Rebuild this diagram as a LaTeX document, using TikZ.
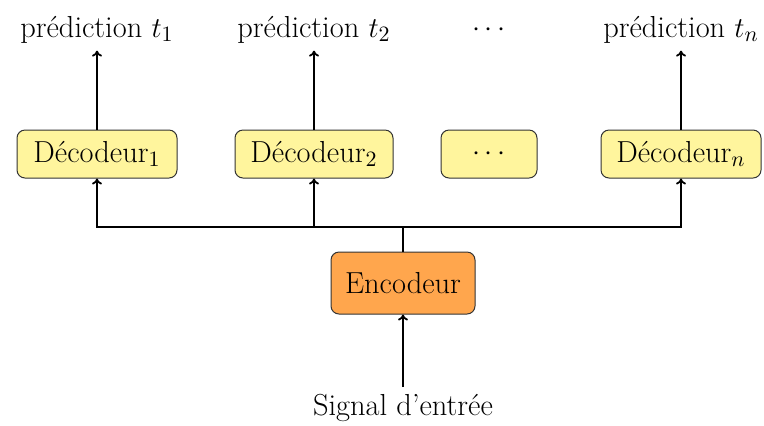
\documentclass[tikz,border=0pt]{standalone}
\usetikzlibrary{arrows.meta}
\definecolor{decfill}{HTML}{FFF59D}
\definecolor{encfill}{HTML}{FFA64D}
\begin{document}
\begin{tikzpicture}[x=0.5pt,y=-0.5pt,
  every node/.style={font=\fontsize{15.2}{18}\selectfont},
  decbox/.style={draw=black!80, fill=decfill, rounded corners=4pt, line width=0.5pt,
    minimum height=24pt, inner xsep=4pt},
  encbox/.style={draw=black!80, fill=encfill, rounded corners=4pt, line width=0.5pt,
    minimum height=31pt, minimum width=72pt},
  wire/.style={line width=0.9pt},
  arr/.style={wire, -{To[length=3pt,width=5pt]}}]
\useasboundingbox (0,0) rectangle (764,425);
% decoders
\node[decbox, minimum width=80pt] (d1) at (97,154) {Décodeur$_1$};
\node[decbox, minimum width=79pt] (d2) at (314,154) {Décodeur$_2$};
\node[decbox, minimum width=48pt] (dd) at (489,154) {$\cdots$};
\node[decbox, minimum width=80pt] (dn) at (681,154) {Décodeur$_n$};
% predictions
\node (p1) at (97,30) {prédiction $t_1$};
\node (p2) at (314,30) {prédiction $t_2$};
\node (pd) at (489,30) {$\cdots$};
\node (pn) at (681,30) {prédiction $t_n$};
% encoder and input
\node[encbox] (enc) at (403,283) {Encodeur};
\node (sig) at (403,408) {Signal d'entrée};
\coordinate (j) at (403,227);
% connectors
\draw[arr] (sig.north) -- (enc.south);
\draw[wire] (enc.north) -- (j);
\draw[arr] (j) -| (d1.south);
\draw[arr] (j) -| (d2.south);
\draw[arr] (j) -| (dn.south);
\draw[arr] (d1.north) -- (p1.south);
\draw[arr] (d2.north) -- (p2.south);
\draw[arr] (dn.north) -- (pn.south);
\end{tikzpicture}
\end{document}
